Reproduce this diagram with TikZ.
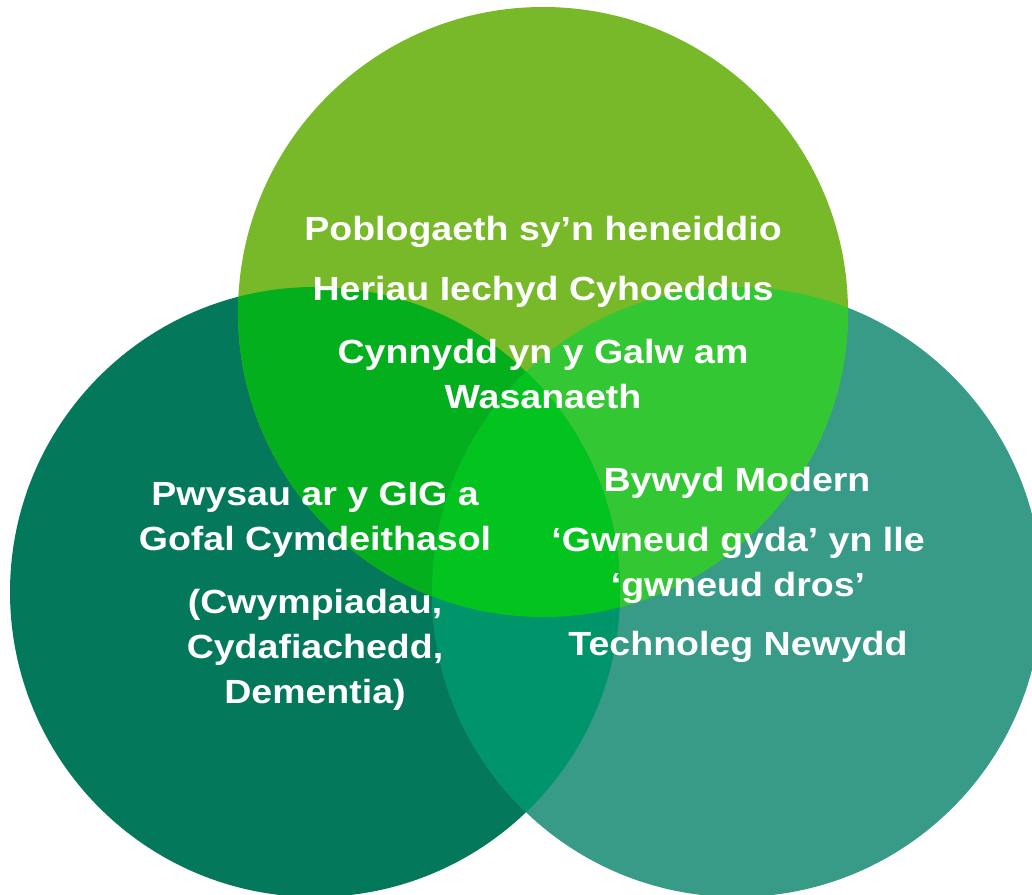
\documentclass[tikz,border=0pt]{standalone}
\usepackage{fontspec}
\setmainfont[FakeStretch=1.12,Ligatures=CommonOff]{Liberation Sans}
\definecolor{cTop}{HTML}{77B928}
\definecolor{cLeft}{HTML}{03785B}
\definecolor{cRight}{HTML}{389B88}
\definecolor{cTL}{HTML}{04AF1E}
\definecolor{cTR}{HTML}{33C833}
\definecolor{cLR}{HTML}{00946A}
\definecolor{cAll}{HTML}{03C41E}
\begin{document}
\begin{tikzpicture}[x=1pt,y=-1pt,
  lbl/.style={text=white,font=\fontsize{33.5}{45}\selectfont\bfseries,align=center,inner sep=0pt}]
\useasboundingbox (0,0) rectangle (1032,894);
\clip (0,0) rectangle (1032,894);
\coordinate (T) at (543,312);
\coordinate (L) at (315,592);
\coordinate (R) at (737,592);
\def\rr{305}
% base circles
\fill[cLeft] (L) circle[radius=\rr];
\fill[cRight] (R) circle[radius=\rr];
\fill[cTop] (T) circle[radius=\rr];
% pairwise overlaps
\begin{scope}
  \clip (T) circle[radius=\rr];
  \fill[cTL] (L) circle[radius=\rr];
  \fill[cTR] (R) circle[radius=\rr];
\end{scope}
\begin{scope}
  \clip (L) circle[radius=\rr];
  \fill[cLR] (R) circle[radius=\rr];
\end{scope}
% triple overlap
\begin{scope}
  \clip (T) circle[radius=\rr];
  \clip (L) circle[radius=\rr];
  \fill[cAll] (R) circle[radius=\rr];
\end{scope}
% labels
\node[lbl] (pob) at (543,232) {Poblogaeth sy’n heneiddio};
\node[lbl] (her) at (543,292) {Heriau Iechyd Cyhoeddus};
\node[lbl] (cyn) at (543,374) {Cynnydd yn y Galw am\\Wasanaeth};
\node[lbl] (pwy) at (315,520) {Pwysau ar y GIG a\\Gofal Cymdeithasol};
\node[lbl] (cwy) at (315,650) {(Cwympiadau,\\Cydafiachedd,\\Dementia)};
\node[lbl] (byw) at (737,483) {Bywyd Modern};
\node[lbl] (gwn) at (738,565) {‘Gwneud gyda’ yn lle\\‘gwneud dros’};
\node[lbl] (tec) at (738,647) {Technoleg Newydd};
\end{tikzpicture}
\end{document}
